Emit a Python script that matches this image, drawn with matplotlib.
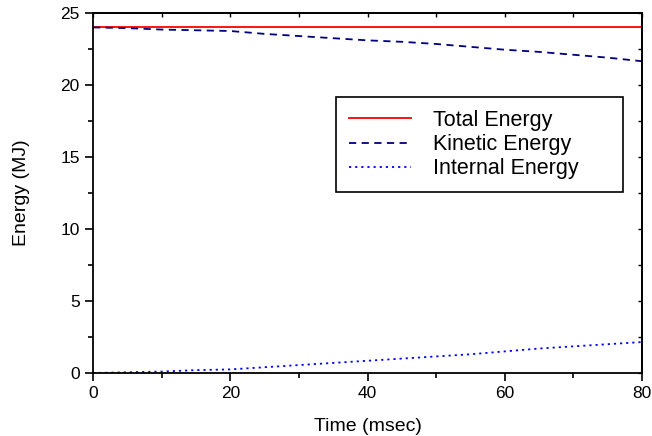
import matplotlib.pyplot as plt
from matplotlib.ticker import MultipleLocator

plt.rcParams['font.family'] = ['Liberation Sans', 'DejaVu Sans']

# time in msec
time = [0, 5, 10, 15, 20, 25, 30, 35, 40, 45, 50, 55, 60, 65, 70, 75, 80]
total = [24.0] * len(time)
kinetic = [24.0, 23.95, 23.85, 23.8, 23.75, 23.55, 23.4, 23.25, 23.1,
           23.0, 22.85, 22.65, 22.45, 22.3, 22.1, 21.9, 21.65]
internal = [0.0, 0.05, 0.1, 0.2, 0.25, 0.4, 0.55, 0.7, 0.85,
            1.0, 1.15, 1.3, 1.5, 1.7, 1.85, 2.0, 2.15]

fig = plt.figure(figsize=(6.52, 4.36), dpi=100)
ax = fig.add_axes([93 / 652, 63 / 436, 549 / 652, 360 / 436])

ax.plot(time, total, color='#ff0000', lw=1.3, label='Total Energy')
ax.plot(time, kinetic, color='#000080', lw=1.3, ls=(0, (4, 3)), label='Kinetic Energy')
ax.plot(time, internal, color='#0000ff', lw=1.3, ls=(0, (1.2, 2.2)), label='Internal Energy')

ax.set_xlim(0, 80)
ax.set_ylim(0, 25)
ax.xaxis.set_major_locator(MultipleLocator(20))
ax.xaxis.set_minor_locator(MultipleLocator(10))
ax.yaxis.set_major_locator(MultipleLocator(5))
ax.yaxis.set_minor_locator(MultipleLocator(2.5))

ax.tick_params(which='both', direction='out', labelsize=12.5, width=1.2)
ax.tick_params(which='major', length=6)
ax.tick_params(which='minor', length=3.5)

# inner ticks on top and right
top = ax.secondary_xaxis('top')
top.xaxis.set_major_locator(MultipleLocator(10))
top.tick_params(direction='in', length=3, width=1, labeltop=False)
right = ax.secondary_yaxis('right')
right.yaxis.set_major_locator(MultipleLocator(2.5))
right.tick_params(direction='in', length=3, width=1, labelright=False)

for s in ax.spines.values():
    s.set_linewidth(1.3)
top.spines['top'].set_linewidth(1.3)
right.spines['right'].set_linewidth(1.3)

ax.set_xlabel('Time (msec)', fontsize=14, labelpad=12)
ax.set_ylabel('Energy (MJ)', fontsize=14, labelpad=22)

# legend box spans x 336..623 px, top at ~97 px
leg = ax.legend(loc='upper left',
                bbox_to_anchor=(336 / 652, 0, (623 - 336) / 652, 1 - 97 / 436),
                bbox_transform=fig.transFigure, mode='expand',
                fontsize=15.5, frameon=True,
                fancybox=False, edgecolor='black', handlelength=2.9,
                borderpad=0.6, labelspacing=0.15, borderaxespad=0,
                handletextpad=1.0)
leg.get_frame().set_linewidth(1.2)
leg.get_frame().set_alpha(1)

fig.savefig('out.png', dpi=100)
